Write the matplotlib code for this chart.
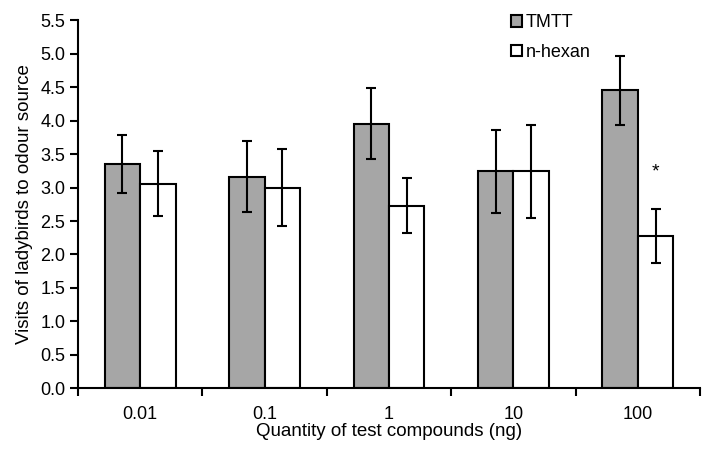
import numpy as np
import matplotlib.pyplot as plt
from matplotlib.patches import Patch

plt.rcParams['font.family'] = ['Liberation Sans', 'DejaVu Sans']

# Dados
doses = ['0.01', '0.1', '1', '10', '100']
tmtt = [3.35, 3.16, 3.95, 3.24, 4.45]
tmtt_err = [0.43, 0.53, 0.53, 0.62, 0.52]
hexan = [3.06, 3.00, 2.73, 3.24, 2.28]
hexan_err = [0.49, 0.57, 0.41, 0.70, 0.40]

x = np.arange(len(doses)) + 0.5
w = 0.285

fig = plt.figure(figsize=(7.15, 4.58), dpi=100)
ax = fig.add_axes([0.109, 0.152, 0.870, 0.804])

ax.bar(x - w / 2, tmtt, w, color='#a6a6a6', edgecolor='black', linewidth=1.5,
       yerr=tmtt_err, error_kw=dict(ecolor='black', elinewidth=1.5, capsize=3.7, capthick=1.5))
ax.bar(x + w / 2, hexan, w, color='white', edgecolor='black', linewidth=1.5,
       yerr=hexan_err, error_kw=dict(ecolor='black', elinewidth=1.5, capsize=3.7, capthick=1.5))

# asterisco de significância
ax.text(x[4] + w / 2, hexan[4] + hexan_err[4] + 0.55, '*', ha='center', va='center', fontsize=14)

ax.set_xlim(0, len(doses))
ax.set_ylim(0, 5.5)
ax.set_yticks(np.arange(0, 5.51, 0.5))
ax.set_yticklabels([f'{v:.1f}' for v in np.arange(0, 5.51, 0.5)])
ax.set_xticks(x)
ax.set_xticklabels(doses)
ax.set_xticks(np.arange(0, len(doses) + 1), minor=True)
ax.tick_params(axis='x', which='major', length=0, pad=13, labelsize=13)
ax.tick_params(axis='x', which='minor', length=6, width=1.5, direction='out')
ax.tick_params(axis='y', length=6, width=1.5, labelsize=13, pad=3)

for s in ['top', 'right']:
    ax.spines[s].set_visible(False)
for s in ['left', 'bottom']:
    ax.spines[s].set_linewidth(1.5)

ax.set_xlabel('Quantity of test compounds (ng)', fontsize=13.5, labelpad=0)
ax.set_ylabel('Visits of ladybirds to odour source', fontsize=13.5, labelpad=5)

handles = [Patch(facecolor='#a6a6a6', edgecolor='black', linewidth=1.5, label='TMTT'),
           Patch(facecolor='white', edgecolor='black', linewidth=1.5, label='n-hexan')]
ax.legend(handles=handles, loc='upper left', bbox_to_anchor=(0.67, 1.06), frameon=False,
          handlelength=0.6, handleheight=0.6, handletextpad=0.2, labelspacing=0.7, fontsize=13)

plt.savefig('out.png', dpi=100)
